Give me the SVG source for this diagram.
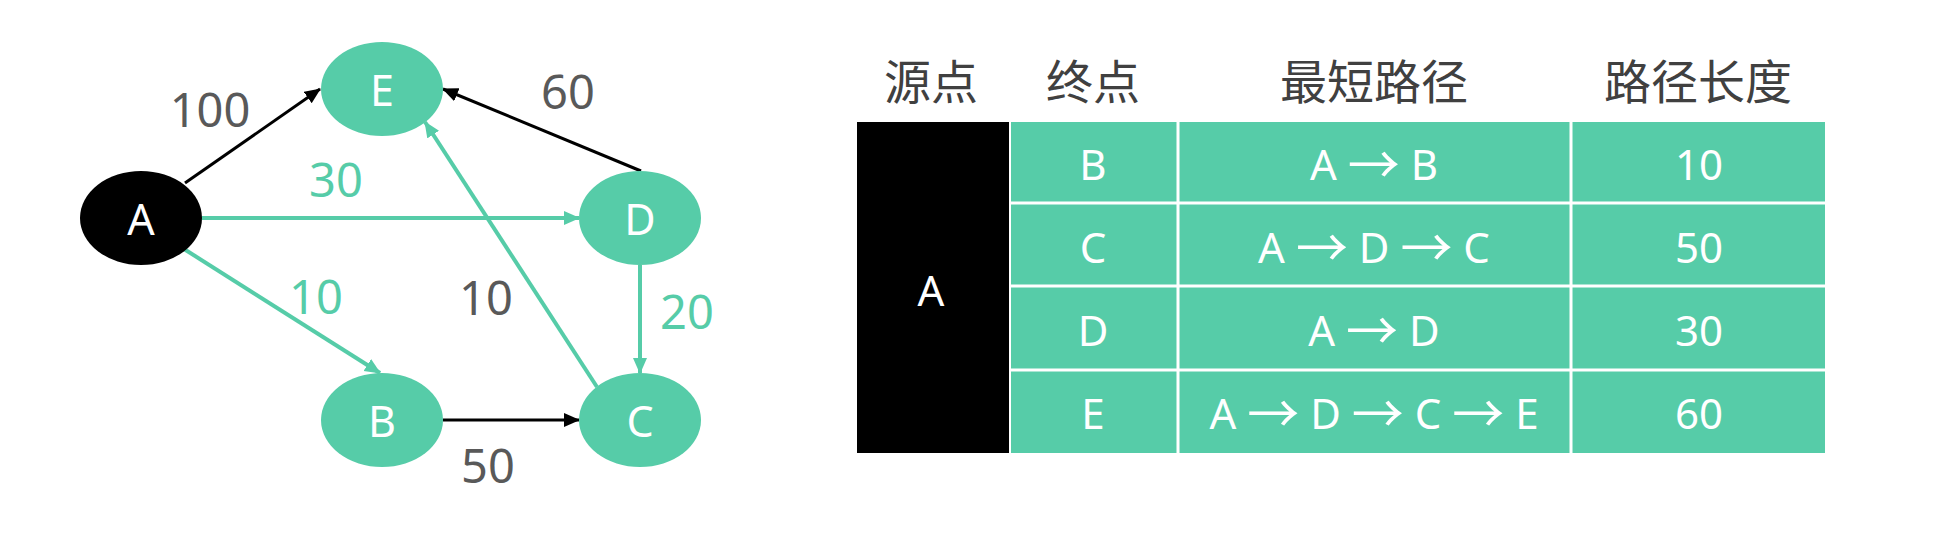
<svg xmlns="http://www.w3.org/2000/svg" width="1934" height="546" viewBox="0 0 1934 546">
<style>
text{font-family:"Noto Sans","Noto Sans CJK SC",sans-serif;text-anchor:middle;dominant-baseline:central}
.nl{font-size:43px;fill:#fff}
.el{font-size:47px;fill:#595959}
.eg{font-size:47px;fill:#56cca8}
.hd{font-size:47px;fill:#404040;font-family:"Noto Sans CJK SC",sans-serif}
.td{font-size:42px;fill:#fff}
.ar{font-size:52px}
.k{stroke:#000;stroke-width:3;fill:none}
.g{stroke:#56cca8;stroke-width:4;fill:none}
.gn{fill:#56cca8}
</style>
<defs>
<marker id="ak" markerUnits="userSpaceOnUse" markerWidth="18" markerHeight="16" refX="15" refY="7" orient="auto"><path d="M0,0 L16,7 L0,14 z" fill="#000"/></marker>
<marker id="ag" markerUnits="userSpaceOnUse" markerWidth="18" markerHeight="16" refX="15" refY="7" orient="auto"><path d="M0,0 L16,7 L0,14 z" fill="#56cca8"/></marker>
</defs>
<rect width="1934" height="546" fill="#fff"/>
<g id="connectors">
<line class="k" x1="185" y1="183" x2="320" y2="89" marker-end="url(#ak)"/>
<line class="k" x1="641" y1="171" x2="443" y2="89" marker-end="url(#ak)"/>
<line class="g" x1="202" y1="218" x2="579" y2="218" marker-end="url(#ag)"/>
<line class="g" x1="184" y1="249" x2="380" y2="373" marker-end="url(#ag)"/>
<line class="g" x1="597" y1="387" x2="425" y2="122" marker-end="url(#ag)"/>
<line class="g" x1="640" y1="265" x2="640" y2="373" marker-end="url(#ag)"/>
<line class="k" x1="443" y1="420" x2="579" y2="420" marker-end="url(#ak)"/>
<text class="el" x="210" y="109">100</text>
<text class="el" x="568" y="91">60</text>
<text class="eg" x="336" y="179">30</text>
<text class="eg" x="316" y="296">10</text>
<text class="el" x="486" y="297">10</text>
<text class="eg" x="687" y="311">20</text>
<text class="el" x="488" y="465">50</text>
</g>
<g id="node-A"><ellipse cx="141" cy="218" rx="61" ry="47" fill="#000"/><text class="nl" x="141" y="218">A</text></g>
<g id="node-E"><ellipse class="gn" cx="382" cy="89" rx="61" ry="47"/><text class="nl" x="382" y="89">E</text></g>
<g id="node-D"><ellipse class="gn" cx="640" cy="218" rx="61" ry="47"/><text class="nl" x="640" y="218">D</text></g>
<g id="node-B"><ellipse class="gn" cx="382" cy="420" rx="61" ry="47"/><text class="nl" x="382" y="420">B</text></g>
<g id="node-C"><ellipse class="gn" cx="640" cy="420" rx="61" ry="47"/><text class="nl" x="640" y="420">C</text></g>
<g id="table">
<text class="hd" x="931" y="78">源点</text>
<text class="hd" x="1093" y="78">终点</text>
<text class="hd" x="1374" y="78">最短路径</text>
<text class="hd" x="1698" y="78">路径长度</text>
<rect x="857" y="122" width="152" height="331" fill="#000"/>
<rect x="1011" y="122" width="814" height="331" fill="#56cca8"/>
<g stroke="#fff" stroke-width="3">
<line x1="1011" y1="203" x2="1825" y2="203"/>
<line x1="1011" y1="286" x2="1825" y2="286"/>
<line x1="1011" y1="370" x2="1825" y2="370"/>
<line x1="1178" y1="122" x2="1178" y2="453"/>
<line x1="1571" y1="122" x2="1571" y2="453"/>
</g>
<text class="td" x="931" y="289">A</text>
<text class="td" x="1093" y="163">B</text>
<text class="td" x="1374" y="163">A <tspan class="ar">→</tspan> B</text>
<text class="td" x="1699" y="163">10</text>
<text class="td" x="1093" y="246">C</text>
<text class="td" x="1374" y="246">A <tspan class="ar">→</tspan> D <tspan class="ar">→</tspan> C</text>
<text class="td" x="1699" y="246">50</text>
<text class="td" x="1093" y="329">D</text>
<text class="td" x="1374" y="329">A <tspan class="ar">→</tspan> D</text>
<text class="td" x="1699" y="329">30</text>
<text class="td" x="1093" y="412">E</text>
<text class="td" x="1374" y="412">A <tspan class="ar">→</tspan> D <tspan class="ar">→</tspan> C <tspan class="ar">→</tspan> E</text>
<text class="td" x="1699" y="412">60</text>
</g>
</svg>
